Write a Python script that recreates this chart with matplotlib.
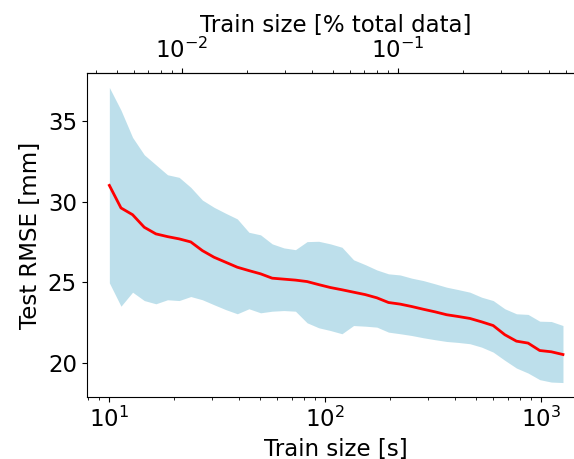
import matplotlib
matplotlib.use('Agg')
import matplotlib.pyplot as plt
import numpy as np

# train size in seconds
train_s = [10, 11.32, 12.81, 14.51, 16.42, 18.59, 21.04, 23.82, 26.96, 30.52,
           34.55, 39.11, 44.27, 50.12, 56.73, 64.22, 72.70, 82.30, 93.16, 105.5,
           119.4, 135.1, 153.0, 173.2, 196.0, 221.9, 251.2, 284.3, 321.9, 364.4,
           412.5, 466.9, 528.5, 598.3, 677.3, 766.7, 867.9, 982.5, 1112, 1259]

rmse_mean = [31.01, 29.61, 29.19, 28.41, 28.00, 27.83, 27.69, 27.50, 26.96, 26.55,
             26.24, 25.93, 25.72, 25.52, 25.25, 25.19, 25.13, 25.04, 24.85, 24.67,
             24.53, 24.38, 24.23, 24.03, 23.74, 23.64, 23.49, 23.32, 23.16, 22.98,
             22.87, 22.75, 22.54, 22.31, 21.74, 21.34, 21.22, 20.76, 20.68, 20.51]

rmse_upper = [37.09, 35.68, 33.99, 32.91, 32.29, 31.67, 31.51, 30.89, 30.10, 29.65,
              29.28, 28.93, 28.10, 27.94, 27.38, 27.13, 27.02, 27.52, 27.54, 27.38,
              27.17, 26.39, 26.09, 25.76, 25.52, 25.45, 25.25, 25.10, 24.90, 24.69,
              24.54, 24.38, 24.07, 23.86, 23.35, 23.04, 23.00, 22.58, 22.56, 22.31]

rmse_lower = [24.96, 23.51, 24.38, 23.86, 23.66, 23.91, 23.86, 24.11, 23.91, 23.60,
              23.30, 23.04, 23.35, 23.10, 23.20, 23.24, 23.20, 22.48, 22.17, 22.00,
              21.80, 22.31, 22.27, 22.21, 21.90, 21.80, 21.69, 21.55, 21.43, 21.32,
              21.26, 21.18, 20.97, 20.66, 20.15, 19.67, 19.36, 18.95, 18.80, 18.77]

total_s = 216000.0  # 60 hours of data


def s2pct(s):
    return np.asarray(s) / total_s * 100


def pct2s(p):
    return np.asarray(p) * total_s / 100


plt.rcParams['font.size'] = 16.5

fig = plt.figure(figsize=(5.74, 4.59), dpi=100)
ax = fig.add_axes([0.151, 0.1344, 0.8693, 0.7072])

ax.fill_between(train_s, rmse_lower, rmse_upper, color='lightblue', alpha=0.8, linewidth=0)
ax.plot(train_s, rmse_mean, color='red', linewidth=2)
ax.set_xscale('log')
ax.set_xlabel('Train size [s]')
ax.set_ylabel('Test RMSE [mm]')

sec = ax.secondary_xaxis('top', functions=(s2pct, pct2s))
sec.set_xlabel('Train size [% total data]')

fig.savefig('out.png', dpi=100)
